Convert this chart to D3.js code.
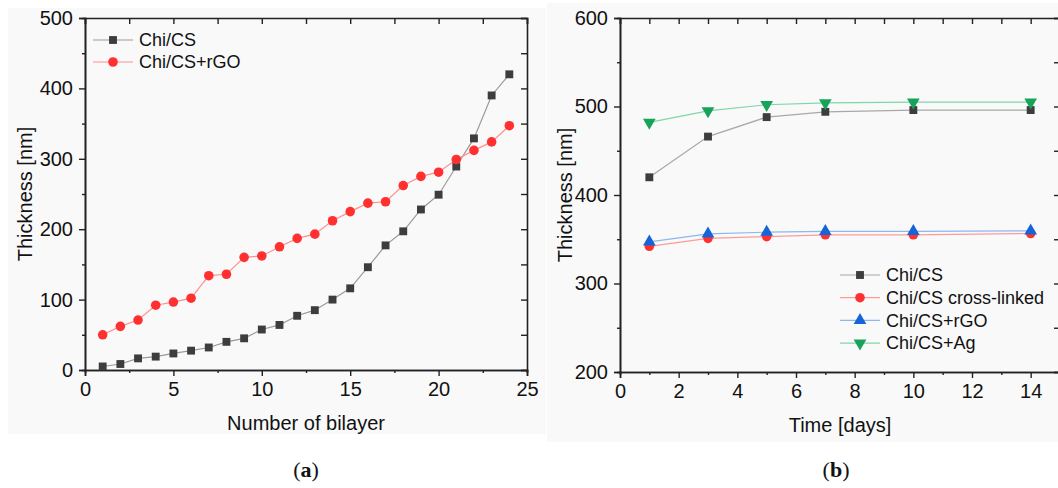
<!DOCTYPE html>
<html>
<head>
<meta charset="utf-8">
<script src="https://cdn.jsdelivr.net/npm/d3@7"></script>
<style>
  body { margin: 0; background: #fff; }
  svg { display: block; }
</style>
</head>
<body>
<div class="canvas"></div>
<script>
// panel (a) data: thickness vs number of bilayers
const bilayers = d3.range(1, 25)
const chiCS_a = [5, 8.5, 16.5, 19, 23.5, 27.5, 32, 40, 45, 57.5, 64, 77, 85, 100, 116, 146, 177, 197, 228, 249, 289, 329, 390, 420]
const chiCSrGO_a = [50, 62, 71, 92, 96.5, 102, 134, 136, 160, 162, 175, 187, 193, 212, 225, 237, 239, 262, 275, 281, 299, 312, 324, 347]

// panel (b) data: thickness vs time
const days = [1, 3, 5, 7, 10, 14]
const chiCS_b = [420, 466, 488, 494, 496, 496]
const crossLinked_b = [342, 351, 353, 355, 355, 356.5]
const rGO_b = [347, 356, 358, 359, 359, 359.5]
const ag_b = [482, 495, 502, 504, 505, 505]

const width = 1058
const height = 488
const axisColor = '#222'
const font = 'Liberation Sans, Arial, sans-serif'

const svg = d3.select('.canvas')
  .append('svg')
  .attr('width', width)
  .attr('height', height)

// panel backgrounds (light gray as in the scan)
svg.append('rect').attr('x', 8).attr('y', 8).attr('width', 538).attr('height', 426).attr('fill', '#f9f9f9')
svg.append('rect').attr('x', 547).attr('y', 3).attr('width', 511).attr('height', 439).attr('fill', '#f9f9f9')

const shapes = {
  square: d3.symbolSquare,
  circle: d3.symbolCircle,
  up: d3.symbolTriangle,
  down: d3.symbolTriangle
}

function marker(g, shape, color, size) {
  const p = g.append('path')
    .attr('d', d3.symbol().type(shapes[shape]).size(size)())
    .attr('fill', color)
  if (shape === 'down') p.attr('transform', 'rotate(180)')
  return p
}

function panel(cfg) {
  const g = svg.append('g')
  const x = d3.scaleLinear().domain(cfg.xDomain).range([cfg.left, cfg.right])
  const y = d3.scaleLinear().domain(cfg.yDomain).range([cfg.bottom, cfg.top])

  // axes: major ticks out, minor ticks shorter, mirrored box with inward ticks
  const bottom = g.append('g').attr('transform', `translate(0,${cfg.bottom})`)
  bottom.call(d3.axisBottom(x).tickValues(cfg.xMinor).tickSize(3).tickFormat(''))
  bottom.call(g2 => g2.append('g').call(d3.axisBottom(x).tickValues(cfg.xMajor).tickSize(6).tickPadding(6)))

  const left = g.append('g').attr('transform', `translate(${cfg.left},0)`)
  left.call(d3.axisLeft(y).tickValues(cfg.yMinor).tickSize(3).tickFormat(''))
  left.call(g2 => g2.append('g').call(d3.axisLeft(y).tickValues(cfg.yMajor).tickSize(6).tickPadding(6)))

  const top = g.append('g').attr('transform', `translate(0,${cfg.top})`)
  top.call(d3.axisTop(x).tickValues(cfg.xMajor.concat(cfg.xMinor)).tickSize(-6).tickFormat(''))

  const right = g.append('g').attr('transform', `translate(${x(cfg.xDomain[1])},0)`)
  right.call(d3.axisRight(y).tickValues(cfg.yMajor.concat(cfg.yMinor)).tickSize(-6).tickFormat(''))

  g.selectAll('.domain').attr('stroke', axisColor).attr('stroke-width', 1.6)
  g.selectAll('.tick line').attr('stroke', axisColor).attr('stroke-width', 1.4)
  g.selectAll('.tick text')
    .attr('font-family', font)
    .attr('font-size', 20)
    .attr('fill', '#111')

  // axis titles
  g.append('text')
    .attr('x', (cfg.left + cfg.right) / 2)
    .attr('y', cfg.bottom + 60)
    .attr('text-anchor', 'middle')
    .attr('font-family', font)
    .attr('font-size', 20)
    .attr('fill', '#111')
    .text(cfg.xTitle)

  g.append('text')
    .attr('transform', `translate(${cfg.yTitleX}, ${(cfg.top + cfg.bottom) / 2}) rotate(-90)`)
    .attr('text-anchor', 'middle')
    .attr('font-family', font)
    .attr('font-size', 20)
    .attr('fill', '#111')
    .text('Thickness [nm]')

  // series
  const line = d3.line().x(d => x(d[0])).y(d => y(d[1]))
  cfg.series.forEach(s => {
    const pts = cfg.xs.map((v, i) => [v, s.values[i]])
    g.append('path')
      .datum(pts)
      .attr('d', line)
      .attr('fill', 'none')
      .attr('stroke', s.line)
      .attr('stroke-width', 1.2)
  })
  cfg.series.forEach(s => {
    cfg.xs.forEach((v, i) => {
      const m = g.append('g').attr('transform', `translate(${x(v)},${y(s.values[i])})`)
      marker(m, s.shape, s.color, s.size)
    })
  })

  // legend
  cfg.series.forEach((s, i) => {
    const ly = cfg.legendY + i * cfg.legendStep
    const lg = g.append('g').attr('transform', `translate(${cfg.legendX},${ly})`)
    lg.append('line').attr('x1', 0).attr('x2', 40).attr('stroke', s.line).attr('stroke-width', 1.2)
    marker(lg.append('g').attr('transform', 'translate(20,0)'), s.shape, s.color, s.size)
    lg.append('text')
      .attr('x', 46)
      .attr('dy', '0.35em')
      .attr('font-family', font)
      .attr('font-size', 18)
      .attr('fill', '#111')
      .text(s.name)
  })

  // caption
  const cap = svg.append('text')
    .attr('x', cfg.captionX)
    .attr('y', 477)
    .attr('text-anchor', 'middle')
    .attr('font-family', 'Liberation Serif, Times New Roman, serif')
    .attr('font-size', 22)
    .attr('fill', '#111')
  cap.append('tspan').text('(')
  cap.append('tspan').attr('font-weight', 'bold').text(cfg.caption)
  cap.append('tspan').text(')')
}

panel({
  left: 85, right: 527, top: 18, bottom: 370,
  xDomain: [0, 25], yDomain: [0, 500],
  xMajor: [0, 5, 10, 15, 20, 25], xMinor: [2.5, 7.5, 12.5, 17.5, 22.5],
  yMajor: [0, 100, 200, 300, 400, 500], yMinor: [50, 150, 250, 350, 450],
  xTitle: 'Number of bilayer', yTitleX: 32,
  xs: bilayers,
  series: [
    { name: 'Chi/CS', values: chiCS_a, shape: 'square', color: '#3d3d3d', line: '#9a9a9a', size: 62 },
    { name: 'Chi/CS+rGO', values: chiCSrGO_a, shape: 'circle', color: '#ff3030', line: '#ff9090', size: 72 }
  ],
  legendX: 93, legendY: 40, legendStep: 22,
  captionX: 306, caption: 'a'
})

panel({
  left: 620, right: 1060, top: 18, bottom: 372,
  xDomain: [0, 15], yDomain: [200, 600],
  xMajor: [0, 2, 4, 6, 8, 10, 12, 14], xMinor: [1, 3, 5, 7, 9, 11, 13],
  yMajor: [200, 300, 400, 500, 600], yMinor: [250, 350, 450, 550],
  xTitle: 'Time [days]', yTitleX: 572,
  xs: days,
  series: [
    { name: 'Chi/CS', values: chiCS_b, shape: 'square', color: '#3d3d3d', line: '#a8a8a8', size: 62 },
    { name: 'Chi/CS cross-linked', values: crossLinked_b, shape: 'circle', color: '#ff3030', line: '#ff9a9a', size: 72 },
    { name: 'Chi/CS+rGO', values: rGO_b, shape: 'up', color: '#1565d8', line: '#8ab8ef', size: 70 },
    { name: 'Chi/CS+Ag', values: ag_b, shape: 'down', color: '#17a35a', line: '#80d5aa', size: 70 }
  ],
  legendX: 840, legendY: 275, legendStep: 22.7,
  captionX: 836, caption: 'b'
})
</script>
</body>
</html>
